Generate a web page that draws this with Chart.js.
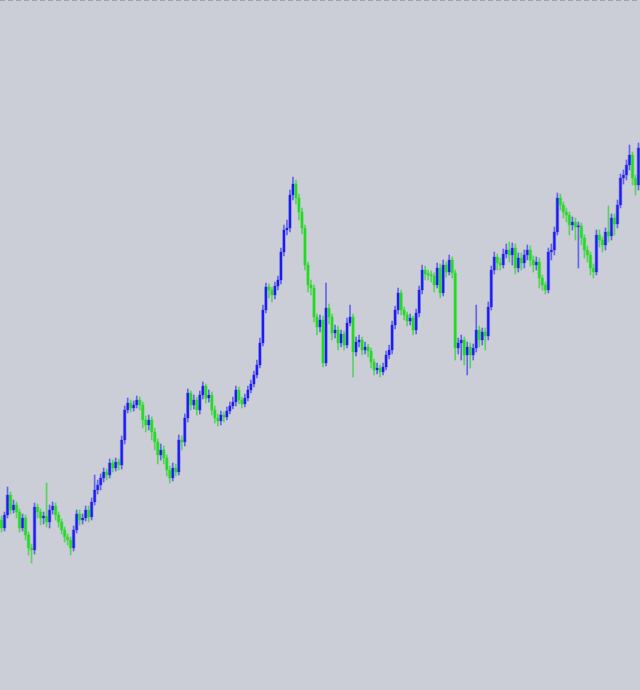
<!DOCTYPE html>
<html>
<head>
<meta charset="utf-8">
<script src="https://cdn.jsdelivr.net/npm/chart.js@4/dist/chart.umd.min.js"></script>
<style>
  html, body { margin: 0; padding: 0; background: #cbced7; }
  #wrap { width: 640px; height: 690px; position: relative; }
</style>
</head>
<body>
<div id="wrap"><canvas id="c"></canvas></div>
<script>
// Price values (arbitrary units, 0..690 visible range)
const firstOpen = 170;
const closes = [
  162,175,195,180,185,178,162,172,155,142,140,183,178,172,174,168,180,184,175,168,
  160,153,150,142,160,176,170,172,180,173,188,200,205,212,218,215,227,222,228,225,
  250,280,287,282,285,290,285,270,265,270,258,248,235,240,232,220,212,222,218,250,
  248,272,297,285,290,280,295,304,292,295,280,272,269,275,273,279,284,288,300,290,
  286,292,300,306,315,325,347,380,403,400,395,404,410,438,460,462,495,506,492,478,
  462,425,405,402,373,363,370,327,382,373,357,360,347,356,345,367,373,338,348,350,
  340,343,339,328,320,322,318,323,335,340,365,380,397,380,375,369,372,360,377,400,
  420,416,415,414,405,422,397,425,418,430,417,342,347,350,335,343,335,342,360,350,
  358,354,383,420,433,427,425,436,440,435,442,422,432,427,435,440,430,425,428,412,
  405,400,438,440,458,492,485,478,475,465,468,463,464,452,440,435,422,418,455,450,
  445,458,454,472,466,485,512,515,525,535,512,505,542
];
const highs = [
  174,178,203,198,190,188,181,176,175,158,146,187,186,181,178,207,185,188,187,178,
  171,163,156,153,164,180,180,176,184,184,192,215,210,216,222,221,231,230,232,231,
  254,284,292,290,289,294,293,288,274,275,273,262,251,246,244,235,224,227,226,255,
  254,276,301,299,295,293,299,308,306,300,298,284,276,279,278,283,288,293,304,303,
  293,296,304,310,319,330,352,385,407,406,403,408,414,442,465,470,500,513,510,496,
  482,465,428,410,405,376,375,374,407,386,376,365,364,360,359,372,385,376,353,355,
  353,348,346,342,331,327,325,327,339,345,369,384,402,400,383,378,376,374,381,404,
  425,424,420,419,417,427,426,430,428,435,433,420,352,355,353,348,347,346,385,364,
  362,362,388,424,438,436,432,441,446,448,447,446,437,437,440,445,444,434,433,432,
  415,408,442,446,463,497,496,488,482,478,473,472,468,467,455,444,438,426,460,460,
  453,462,484,476,476,490,516,520,530,545,538,515,547
];
const lows = [
  158,159,172,176,177,172,158,159,150,135,127,136,172,165,166,163,162,176,170,163,
  156,148,145,135,139,157,165,166,169,168,170,185,196,200,208,210,212,218,219,220,
  221,246,277,278,279,282,280,262,258,260,250,240,226,230,226,214,207,209,214,215,
  240,244,268,280,281,275,276,291,287,288,275,267,264,265,268,270,276,281,284,286,
  282,283,289,297,303,312,322,344,377,392,388,391,400,406,434,455,458,490,486,470,
  456,420,398,395,368,355,358,323,324,366,350,352,340,343,340,342,364,313,334,343,
  335,336,333,322,315,316,313,315,320,331,336,361,376,375,370,364,365,355,356,373,
  396,410,410,408,398,402,392,394,413,415,412,330,336,330,325,315,322,330,338,343,
  345,340,350,380,416,420,420,422,432,428,425,416,418,420,422,430,424,418,420,402,
  400,396,397,430,435,455,480,472,468,455,460,450,422,445,432,428,415,412,415,443,
  438,440,448,450,455,462,482,506,510,520,505,495,500
];

const opens = closes.map((c, i) => (i === 0 ? firstOpen : closes[i - 1]));
const labels = closes.map((_, i) => String(i + 1));

const UP = '#1a1af4';
const DOWN = '#1fdc1f';
const UP_HALO = 'rgba(70,70,240,0.45)';
const DOWN_HALO = 'rgba(50,215,50,0.45)';
const UP_WICK = 'rgba(55,55,240,0.7)';
const DOWN_WICK = 'rgba(45,210,45,0.7)';

const isUp = closes.map((c, i) => c >= opens[i]);

const topDash = {
  id: 'topDash',
  afterDraw(chart) {
    const ctx = chart.ctx;
    ctx.save();
    ctx.setLineDash([5, 3]);
    ctx.strokeStyle = '#9ba6b2';
    ctx.lineWidth = 1;
    ctx.beginPath();
    ctx.moveTo(0, 0.5);
    ctx.lineTo(chart.width, 0.5);
    ctx.stroke();
    ctx.restore();
  }
};

new Chart(document.getElementById('c'), {
  type: 'bar',
  data: {
    labels,
    datasets: [
      {
        label: 'wick',
        data: lows.map((l, i) => [l, highs[i]]),
        backgroundColor: isUp.map(u => (u ? UP_WICK : DOWN_WICK)),
        barThickness: 1,
        grouped: false,
        order: 3
      },
      {
        label: 'halo',
        data: opens.map((o, i) => [o, closes[i]]),
        backgroundColor: isUp.map(u => (u ? UP_HALO : DOWN_HALO)),
        categoryPercentage: 1.0,
        barPercentage: 1.0,
        minBarLength: 2,
        grouped: false,
        order: 2
      },
      {
        label: 'body',
        data: opens.map((o, i) => [o, closes[i]]),
        backgroundColor: isUp.map(u => (u ? UP : DOWN)),
        categoryPercentage: 1.0,
        barPercentage: 0.7,
        minBarLength: 1,
        grouped: false,
        order: 1
      }
    ]
  },
  options: {
    responsive: true,
    maintainAspectRatio: false,
    animation: false,
    layout: { padding: 0 },
    plugins: { legend: { display: false }, tooltip: { enabled: false } },
    scales: {
      x: { display: false, offset: true },
      y: { display: false, min: 0, max: 690 }
    }
  },
  plugins: [topDash]
});
</script>
</body>
</html>
